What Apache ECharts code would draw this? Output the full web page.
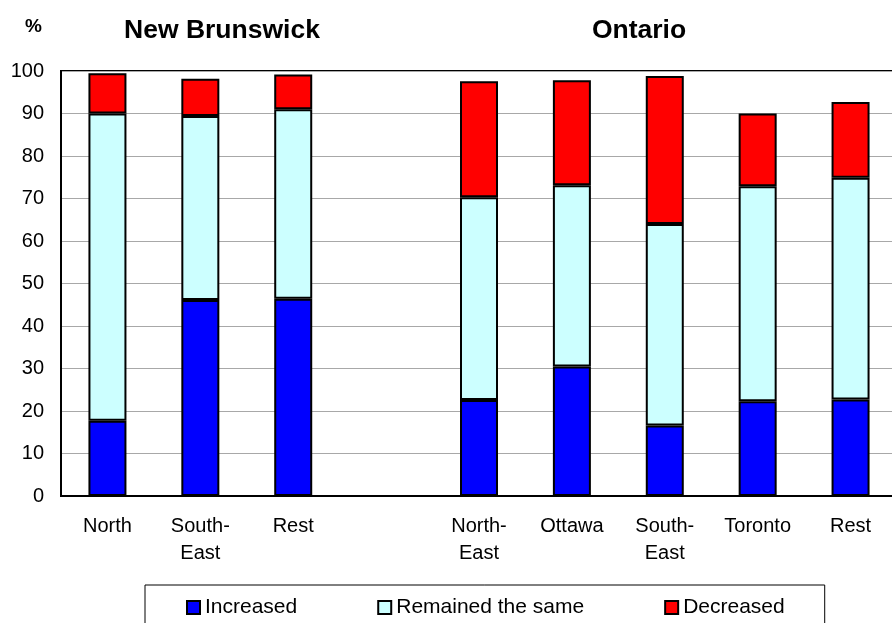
<!DOCTYPE html>
<html>
<head>
<meta charset="utf-8">
<script src="https://cdn.jsdelivr.net/npm/echarts@6/dist/echarts.min.js"></script>
<style>
html,body{margin:0;padding:0;background:#fff;overflow:hidden;}
#chart{width:898px;height:623px;}
</style>
</head>
<body>
<div id="chart"></div>
<script>
var categories = ['North', 'South-\nEast', 'Rest', '', 'North-\nEast', 'Ottawa', 'South-\nEast', 'Toronto', 'Rest'];
var increased = [17.7, 46.1, 46.4, null, 22.6, 30.5, 16.6, 22.3, 22.7];
var remained  = [72.3, 43.3, 44.6, null, 47.7, 42.6, 47.4, 50.6, 52.2];
var decreased = [9.5, 8.8, 8.2, null, 27.3, 24.7, 34.8, 17.1, 17.8];
var seriesNames = ['Increased', 'Remained the same', 'Decreased'];
var yTicks = [0, 10, 20, 30, 40, 50, 60, 70, 80, 90, 100];

var chart = echarts.init(document.getElementById('chart'), null, {renderer: 'canvas'});
var font = '"Liberation Sans", Arial, sans-serif';
var colors = ['#0000FF', '#CCFFFF', '#FF0000'];
var vals = [increased, remained, decreased];

var series = seriesNames.map(function (n, i) {
  return {
    name: n,
    type: 'bar',
    stack: 'total',
    barWidth: 38,
    data: vals[i],
    itemStyle: {color: colors[i], borderColor: '#000', borderWidth: 2},
    emphasis: {disabled: true}
  };
});

chart.setOption({
  animation: false,
  textStyle: {fontFamily: font},
  grid: {left: 61, top: 71, width: 836, height: 425, show: true, borderColor: '#000', borderWidth: 2, backgroundColor: 'transparent'},
  xAxis: {
    type: 'category',
    data: categories,
    axisTick: {show: false},
    axisLine: {lineStyle: {color: '#000', width: 2}},
    axisLabel: {color: '#000', fontSize: 20, fontFamily: font, margin: 17, lineHeight: 27, interval: 0}
  },
  yAxis: {
    type: 'value',
    min: yTicks[0],
    max: yTicks[yTicks.length - 1],
    interval: 10,
    axisLine: {show: true, lineStyle: {color: '#000', width: 2}},
    axisTick: {show: false},
    splitLine: {lineStyle: {color: '#a8a8a8', width: 1}},
    axisLabel: {color: '#000', fontSize: 20, fontFamily: font, margin: 17}
  },
  legend: {
    data: seriesNames,
    left: 145,
    top: 585,
    padding: [12, 40, 30, 41],
    itemGap: 80,
    itemWidth: 13,
    itemHeight: 13,
    borderColor: '#000',
    borderWidth: 1,
    icon: 'rect',
    textStyle: {color: '#000', fontSize: 21, fontFamily: font, lineHeight: 20},
    selectedMode: false
  },
  graphic: [
    {type: 'text', left: 25, top: 17, style: {text: '%', font: 'bold 19px ' + font, fill: '#000'}},
    {type: 'text', x: 222, y: 31, style: {text: 'New Brunswick', font: 'bold 26.5px ' + font, fill: '#000', textAlign: 'center', textVerticalAlign: 'middle'}},
    {type: 'text', x: 639, y: 31, style: {text: 'Ontario', font: 'bold 26.5px ' + font, fill: '#000', textAlign: 'center', textVerticalAlign: 'middle'}}
  ],
  series: series
});
</script>
</body>
</html>
